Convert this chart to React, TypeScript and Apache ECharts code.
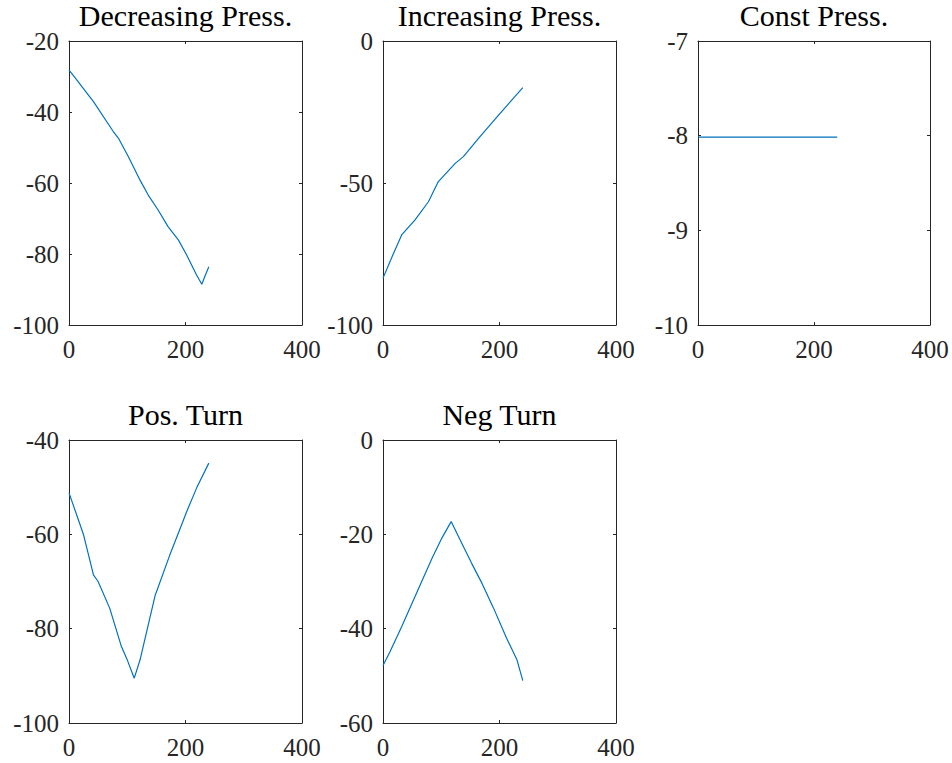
import React, { useEffect, useRef } from "react";
import * as echarts from "echarts";

// Panel titles
const titles = ["Decreasing Press.", "Increasing Press.", "Const Press.", "Pos. Turn", "Neg Turn"];

// Decreasing Press.
const decX = [0, 7, 42, 76, 85, 102, 122, 136, 153, 170, 188, 202, 219, 228, 233, 240];
const decY = [-28.2, -29.6, -37.1, -45.5, -47.4, -52.6, -59.2, -63.4, -67.6, -72.3, -76.1, -80.3, -85.9, -88.5, -86.4, -83.6];

// Increasing Press.
const incX = [0, 18, 32, 55, 78, 95, 124, 138, 164, 201, 221, 240];
const incY = [-83.5, -74.8, -68.3, -63.0, -56.6, -49.5, -43.1, -40.7, -34.3, -25.5, -20.8, -16.4];

// Const Press.
const constX = [0, 60, 120, 180, 240];
const constY = [-8.015, -8.015, -8.015, -8.015, -8.015];

// Pos. Turn
const posX = [0, 25, 42, 50, 70, 90, 99, 112, 122, 148, 173, 191, 202, 219, 240];
const posY = [-51.2, -60.1, -68.6, -70.0, -75.7, -83.8, -86.3, -90.5, -86.6, -72.9, -64.4, -58.7, -55.2, -50.2, -44.9];

// Neg Turn
const negX = [0, 12, 32, 55, 84, 101, 117, 138, 152, 170, 190, 212, 230, 240];
const negY = [-47.8, -44.9, -39.6, -33.2, -25.1, -20.8, -17.3, -22.6, -26.1, -30.4, -35.7, -42.0, -46.6, -51.0];

// Axis ranges
const xRange = { min: 0, max: 400, interval: 200 };
const yRanges = [
  { min: -100, max: -20, interval: 20 },
  { min: -100, max: 0, interval: 50 },
  { min: -10, max: -7, interval: 1 },
  { min: -100, max: -40, interval: 20 },
  { min: -60, max: 0, interval: 20 },
];

const seriesData = [
  [decX, decY],
  [incX, incY],
  [constX, constY],
  [posX, posY],
  [negX, negY],
];

const FONT = "'Liberation Serif', 'DejaVu Serif', serif";
const AXC = "#262626";

export default function App() {
  const ref = useRef<HTMLDivElement>(null);
  useEffect(() => {
    if (!ref.current) return;
    const chart = echarts.init(ref.current, undefined, { renderer: "svg" });
    const grids = [
      { left: 69, top: 41, width: 233, height: 284 },
      { left: 383, top: 41, width: 233, height: 284 },
      { left: 698, top: 41, width: 232, height: 284 },
      { left: 69, top: 440, width: 233, height: 283 },
      { left: 383, top: 440, width: 233, height: 283 },
    ];
    const titleTops = [0, 0, 0, 399, 399];
    const xAxis: any[] = [];
    const yAxis: any[] = [];
    const series: any[] = [];
    const title: any[] = [];
    grids.forEach((g, i) => {
      const common = {
        gridIndex: i,
        type: "value",
        axisLine: { show: true, onZero: false, lineStyle: { color: AXC, width: 1 } },
        axisTick: { show: true, inside: true, length: 3, lineStyle: { color: AXC, width: 1 } },
        splitLine: { show: false },
      };
      xAxis.push({
        ...common,
        position: "bottom",
        ...xRange,
        axisLabel: { show: true, color: AXC, fontFamily: FONT, fontSize: 25, margin: 12 },
      });
      xAxis.push({ ...common, position: "top", ...xRange, axisLabel: { show: false } });
      yAxis.push({
        ...common,
        position: "left",
        ...yRanges[i],
        axisLabel: { show: true, color: AXC, fontFamily: FONT, fontSize: 25, margin: 10 },
      });
      yAxis.push({ ...common, position: "right", ...yRanges[i], axisLabel: { show: false } });
      const [xs, ys] = seriesData[i];
      series.push({
        type: "line",
        xAxisIndex: i * 2,
        yAxisIndex: i * 2,
        data: xs.map((x, k) => [x, ys[k]]),
        showSymbol: false,
        symbol: "none",
        lineStyle: { color: "#0072BD", width: 1.2 },
      });
      title.push({
        text: titles[i],
        left: g.left + g.width / 2,
        top: titleTops[i],
        padding: 0,
        textAlign: "center",
        textStyle: { fontFamily: FONT, fontSize: 30, lineHeight: 30, fontWeight: "normal", color: "#000" },
      });
    });
    chart.setOption({
      animation: false,
      backgroundColor: "#fff",
      title,
      grid: grids,
      xAxis,
      yAxis,
      series,
    });
    return () => chart.dispose();
  }, []);
  return (
    <div
      ref={ref}
      style={{ position: "fixed", left: 0, top: 0, width: 952, height: 763, background: "#fff" }}
    />
  );
}
